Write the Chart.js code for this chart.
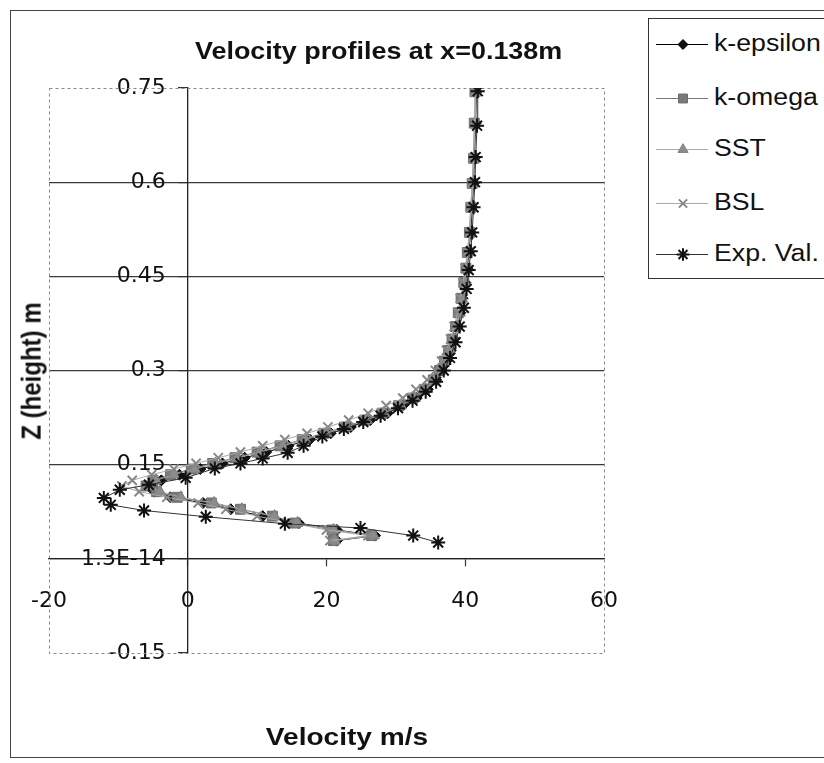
<!DOCTYPE html>
<html>
<head>
<meta charset="utf-8">
<script src="https://cdn.jsdelivr.net/npm/chart.js@4.4.1/dist/chart.umd.min.js"></script>
<style>
  html, body { margin: 0; padding: 0; background: #fff; }
  #wrap { position: relative; width: 824px; height: 763px; overflow: hidden; }
  #frame { position: absolute; left: 10px; top: 10px; width: 840px; height: 748px; border: 1px solid #444; box-sizing: border-box; }
  #chart { position: absolute; left: 0; top: 0; }
  .t { position: absolute; font-family: "Liberation Sans", Arial, sans-serif; font-weight: bold; color: #111; white-space: nowrap; line-height: 1; }
  #title { left: 195px; top: 40px; font-size: 23px; transform: scaleX(1.17); transform-origin: 0 0; }
  #xTitle { left: 347px; top: 737px; font-size: 24px; transform: translate(-50%, -50%) scaleX(1.17); }
  #yTitle { left: 31px; top: 371px; font-size: 24px; transform: translate(-50%, -50%) rotate(-90deg) scaleY(1.17); }
  #legend { position: absolute; left: 648px; top: 18px; width: 220px; height: 261px; border: 1px solid #333; box-sizing: border-box; background: #fff; }
  .row { position: absolute; left: 0; height: 30px; }
  .row canvas { position: absolute; left: 6px; top: 0; }
  .row span { position: absolute; left: 65px; top: 3px; font-family: "Liberation Sans", Arial, sans-serif; font-size: 23px; line-height: 1; color: #111; white-space: nowrap; transform: scaleX(1.16); transform-origin: 0 0; }
</style>
</head>
<body>
<div id="wrap">
  <div id="frame"></div>
  <canvas id="chart" width="824" height="763"></canvas>
  <div class="t" id="title">Velocity profiles at x=0.138m</div>
  <div class="t" id="yTitle">Z (height) m</div>
  <div class="t" id="xTitle">Velocity m/s</div>
  <div id="legend"></div>
</div>
<script>
// ---- data ----
const seriesNames = ['k-epsilon', 'k-omega', 'SST', 'BSL', 'Exp. Val.'];

// heights of the CFD points (m)
const zModel = [0.029, 0.037, 0.046, 0.057, 0.068, 0.079, 0.089, 0.098, 0.107, 0.116,
  0.125, 0.134, 0.143, 0.152, 0.161, 0.170, 0.180, 0.190, 0.200, 0.210,
  0.221, 0.232, 0.244, 0.256, 0.270, 0.285, 0.300, 0.315, 0.332, 0.350,
  0.370, 0.392, 0.415, 0.440, 0.463, 0.488, 0.520, 0.560, 0.598, 0.638,
  0.694, 0.744];

const uKEpsilon = [21.5, 27.0, 21.5, 16.0, 10.8, 6.2, 2.2, -2.5, -4.8, -5.2,
  -3.8, -1.2, 1.8, 5.0, 8.2, 11.3, 14.5, 17.6, 20.6, 23.5,
  26.3, 28.8, 31.0, 33.0, 34.6, 35.8, 36.6, 37.3, 37.9, 38.4,
  38.9, 39.3, 39.6, 40.0, 40.3, 40.5, 40.8, 41.0, 41.2, 41.3,
  41.5, 41.6];

const uKOmega = [21.0, 26.5, 20.8, 15.5, 12.2, 7.6, 3.4, -1.5, -4.5, -6.0,
  -5.0, -2.5, 0.5, 3.6, 6.8, 10.0, 13.3, 16.5, 19.6, 22.6,
  25.5, 28.0, 30.4, 32.4, 34.1, 35.4, 36.3, 37.0, 37.6, 38.1,
  38.6, 39.0, 39.4, 39.8, 40.1, 40.3, 40.6, 40.8, 41.0, 41.2,
  41.3, 41.4];

const uSST = [21.2, 26.8, 21.0, 15.8, 12.5, 7.8, 3.8, -1.0, -4.0, -5.6,
  -4.6, -2.0, 1.0, 4.0, 7.2, 10.4, 13.7, 16.9, 20.0, 23.0,
  25.8, 28.3, 30.7, 32.7, 34.3, 35.6, 36.5, 37.2, 37.8, 38.3,
  38.8, 39.2, 39.5, 39.9, 40.2, 40.4, 40.7, 40.9, 41.1, 41.2,
  41.4, 41.5];

const uBSL = [20.5, 26.0, 20.0, 15.0, 10.0, 5.5, 1.5, -3.0, -7.0, -9.5,
  -8.0, -5.2, -2.0, 1.2, 4.4, 7.6, 10.8, 14.0, 17.2, 20.2,
  23.2, 26.0, 28.6, 31.0, 32.9, 34.5, 35.7, 36.6, 37.3, 37.9,
  38.4, 38.9, 39.3, 39.7, 40.0, 40.3, 40.6, 40.8, 41.0, 41.2,
  41.4, 41.5];

// experimental points
const zExp = [0.026, 0.037, 0.049, 0.056, 0.067, 0.077, 0.086, 0.097, 0.110, 0.118,
  0.129, 0.144, 0.152, 0.160, 0.169, 0.180, 0.195, 0.207, 0.218, 0.228,
  0.240, 0.252, 0.266, 0.282, 0.300, 0.320, 0.345, 0.370, 0.400, 0.430,
  0.460, 0.490, 0.520, 0.560, 0.600, 0.640, 0.690, 0.745];
const uExp = [36.1, 32.5, 24.9, 14.0, 2.6, -6.3, -11.1, -12.1, -9.8, -5.6,
  -0.3, 3.9, 7.6, 10.8, 14.4, 16.7, 19.4, 22.5, 25.3, 27.8,
  30.3, 32.4, 34.3, 35.8, 36.9, 37.8, 38.6, 39.2, 39.8, 40.2,
  40.5, 40.8, 41.0, 41.2, 41.4, 41.5, 41.7, 41.8];

// axes
const xTicks = [-20, 0, 20, 40, 60];
const yTicks = [-0.15, 0, 0.15, 0.3, 0.45, 0.6, 0.75];
const yTickLabels = ['-0.15', '1.3E-14', '0.15', '0.3', '0.45', '0.6', '0.75'];

// ---- styles ----
const styles = [
  { marker: 'rectRot',  radius: 5.5, fill: '#111', stroke: '#000', line: '#000' },
  { marker: 'rect',     radius: 7,   fill: '#7a7a7a', stroke: '#6a6a6a', line: '#777' },
  { marker: 'triangle', radius: 6.5, fill: '#8c8c8c', stroke: '#808080', line: '#aaa' },
  { marker: 'crossRot', radius: 6.5, fill: '#888', stroke: '#888', line: '#aaa' },
  { marker: 'star',     radius: 7,   fill: '#111', stroke: '#111', line: '#333' }
];

const uModels = [uKEpsilon, uKOmega, uSST, uBSL];
const toPts = (us, zs) => us.map((u, i) => ({ x: u, y: zs[i] }));

const datasets = seriesNames.map((name, i) => {
  const st = styles[i];
  const pts = i < 4 ? toPts(uModels[i], zModel) : toPts(uExp, zExp);
  return {
    label: name,
    data: pts,
    showLine: true,
    borderColor: st.line,
    borderWidth: 1,
    pointStyle: st.marker,
    pointRadius: st.radius,
    pointBackgroundColor: st.fill,
    pointBorderColor: st.stroke,
    pointBorderWidth: st.marker === 'crossRot' || st.marker === 'star' ? 2 : 1,
    tension: 0,
    order: 4 - i
  };
});

const isEnd = v => Math.abs(v - 0.75) < 1e-6 || Math.abs(v + 0.15) < 1e-6;

// dashed border around the plot area, Excel style
const plotBorder = {
  id: 'plotBorder',
  beforeDatasetsDraw(chart) {
    const a = chart.chartArea, c = chart.ctx;
    c.save();
    c.strokeStyle = '#8a8a8a';
    c.lineWidth = 1;
    c.setLineDash([3, 3]);
    c.strokeRect(a.left + 0.5, a.top + 0.5, a.right - a.left, a.bottom - a.top);
    c.restore();
  }
};

new Chart(document.getElementById('chart'), {
  type: 'scatter',
  data: { datasets },
  options: {
    responsive: false,
    animation: false,
    layout: { padding: { left: 49, right: 220, top: 88, bottom: 110 } },
    plugins: { legend: { display: false }, title: { display: false }, tooltip: { enabled: false } },
    scales: {
      x: {
        type: 'linear', min: -20, max: 60, position: { y: 0 },
        afterBuildTicks: s => { s.ticks = xTicks.map(v => ({ value: v })); },
        afterFit: s => { s.height = 0; },
        ticks: {
          autoSkip: false, maxRotation: 0, padding: 22, color: '#111',
          font: { family: 'DejaVu Sans', size: 22 },
          callback: (v, i) => String(xTicks[i])
        },
        grid: {
          drawOnChartArea: false, drawTicks: true, tickLength: 7, tickWidth: 1.2,
          tickColor: ctx => (ctx.tick && (ctx.tick.value === -20 || ctx.tick.value === 60)) ? 'rgba(0,0,0,0)' : '#333'
        },
        border: { color: '#222', width: 1.3 }
      },
      y: {
        type: 'linear', min: -0.15, max: 0.75, position: { x: 0 },
        afterBuildTicks: s => { s.ticks = yTicks.map(v => ({ value: v })); },
        afterFit: s => { s.width = 0; },
        ticks: {
          autoSkip: false, color: '#111',
          font: { family: 'DejaVu Sans', size: 22 },
          // labels sit to the left of the crossing axis; trailing gap keeps them off the tick marks
          callback: (v, i) => yTickLabels[i] + '\u2002\u2002'
        },
        grid: {
          color: ctx => (ctx.tick && isEnd(ctx.tick.value)) ? 'rgba(0,0,0,0)' : '#3a3a3a',
          lineWidth: 1.2, drawTicks: true, tickLength: 9, tickColor: '#333', tickWidth: 1.2
        },
        border: { color: '#222', width: 1.3 }
      }
    }
  },
  plugins: [plotBorder]
});

// ---- legend (line + marker swatch, text) ----
const legend = document.getElementById('legend');
const rowY = [10, 64, 115, 169, 220];
seriesNames.forEach((name, i) => {
  const st = styles[i];
  const row = document.createElement('div');
  row.className = 'row';
  row.style.top = rowY[i] + 'px';
  const cv = document.createElement('canvas');
  cv.width = 56; cv.height = 30;
  const c = cv.getContext('2d');
  c.strokeStyle = st.line; c.lineWidth = 1;
  c.beginPath(); c.moveTo(1, 15.5); c.lineTo(53, 15.5); c.stroke();
  c.fillStyle = st.fill; c.strokeStyle = st.stroke;
  c.lineWidth = (st.marker === 'crossRot' || st.marker === 'star') ? 2 : 1;
  Chart.helpers.drawPoint(c, { pointStyle: st.marker, radius: st.radius * 0.9, rotation: 0, borderWidth: c.lineWidth }, 28, 15.5);
  const sp = document.createElement('span');
  sp.textContent = name;
  row.appendChild(cv);
  row.appendChild(sp);
  legend.appendChild(row);
});
</script>
</body>
</html>
